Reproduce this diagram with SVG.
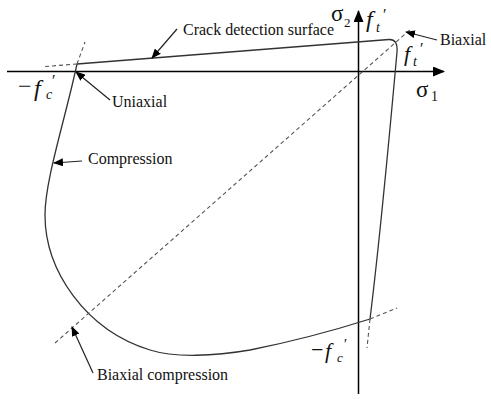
<svg xmlns="http://www.w3.org/2000/svg" width="491" height="399" viewBox="0 0 491 399">
<style>
text{font-family:'Liberation Serif','Times New Roman',serif;fill:#111}
.lbl{font-size:16px}
.m{font-style:italic}
.ax{stroke:#000;stroke-width:1.5;fill:none}
.cv{stroke:#333;stroke-width:1.3;fill:none}
.ds{stroke:#555;stroke-width:1.1;stroke-dasharray:4 3;fill:none}
.ar{stroke:#222;stroke-width:1.2;fill:none;marker-end:url(#ah)}
</style>
<defs>
<marker id="ah" markerWidth="10" markerHeight="8" refX="9" refY="4" orient="auto" markerUnits="userSpaceOnUse">
<path d="M0,0 L10,4 L0,8 Z" fill="#000"/>
</marker>
<marker id="axh" markerWidth="12" markerHeight="10" refX="11" refY="5" orient="auto" markerUnits="userSpaceOnUse">
<path d="M0,0 L12,5 L0,10 Z" fill="#000"/>
</marker>
</defs>
<g id="axes">
<line class="ax" x1="7" y1="71.5" x2="444" y2="71.5" marker-end="url(#axh)"/>
<line class="ax" x1="358.5" y1="394" x2="358.5" y2="11" marker-end="url(#axh)"/>
</g>
<g id="surface">
<path class="cv" d="M77,64 C65,120 45,180 45,215 C45,270 85,330 150,350 C175,358 215,356 250,350 Q310,338 370,319 Q381,230 397,52 Q398,39 389,39.5 L77,64"/>
</g>
<g id="guides">
<line class="ds" x1="77" y1="64" x2="45" y2="66.5"/>
<line class="ds" x1="77" y1="64" x2="85" y2="42"/>
<line class="ds" x1="370" y1="319" x2="397" y2="308"/>
<line class="ds" x1="370" y1="319" x2="367" y2="348"/>
<line class="ds" x1="55" y1="343" x2="412" y2="28"/>
</g>
<g id="connectors">
<line class="ar" x1="177" y1="29" x2="152" y2="58"/>
<line class="ar" x1="110" y1="100" x2="76" y2="72"/>
<line class="ar" x1="82" y1="161" x2="54" y2="163"/>
<line class="ar" x1="93" y1="373" x2="72" y2="327"/>
<line class="ar" x1="437" y1="40" x2="406" y2="32"/>
</g>
<g id="label-crack"><text class="lbl" x="183" y="35">Crack detection surface</text></g>
<g id="label-uniaxial"><text class="lbl" x="112" y="107">Uniaxial</text></g>
<g id="label-compression"><text class="lbl" x="88" y="164">Compression</text></g>
<g id="label-biaxial-compression"><text class="lbl" x="97" y="380">Biaxial compression</text></g>
<g id="label-biaxial"><text class="lbl" x="440" y="45">Biaxial</text></g>
<g id="label-sigma2"><text x="331" y="21" font-size="23">σ</text><text x="344" y="27" font-size="13">2</text></g>
<g id="label-ft-top"><text class="m" x="366" y="27" font-size="24">f</text><text class="m" x="376" y="32" font-size="14">t</text><text class="m" x="382" y="20" font-size="16">′</text></g>
<g id="label-ft-right"><text class="m" x="404" y="61" font-size="22">f</text><text class="m" x="413" y="66" font-size="14">t</text><text class="m" x="419" y="54" font-size="16">′</text></g>
<g id="label-sigma1"><text x="416" y="97" font-size="23">σ</text><text x="431" y="101" font-size="14">1</text></g>
<g id="label-fc-left"><text x="18" y="94" font-size="24">−</text><text class="m" x="34" y="96" font-size="24">f</text><text class="m" x="46" y="99" font-size="14">c</text><text class="m" x="51" y="86" font-size="16">′</text></g>
<g id="label-fc-bottom"><text x="311" y="357" font-size="22">−</text><text class="m" x="325" y="358" font-size="22">f</text><text class="m" x="337" y="362" font-size="13">c</text><text class="m" x="343" y="349" font-size="15">′</text></g>
</svg>
